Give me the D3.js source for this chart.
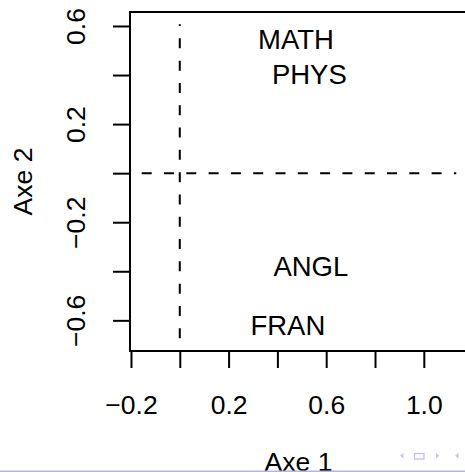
<!DOCTYPE html>
<html>
<head>
<meta charset="utf-8">
<script src="https://d3js.org/d3.v7.min.js"></script>
<style>
  html, body { margin: 0; padding: 0; background: #fff; }
  svg text { font-family: "Liberation Sans", Arial, Helvetica, sans-serif; fill: #000; }
</style>
</head>
<body>
<div id="chart"></div>
<script>
// Variables (individus) projected on the first two axes
const labels = ["MATH", "PHYS", "ANGL", "FRAN"];
const axe1 = [0.476, 0.531, 0.537, 0.443];
const axe2 = [0.545, 0.404, -0.379, -0.618];

// ticks (R drops every other label because they would overlap)
const xTicks = [-0.2, 0, 0.2, 0.4, 0.6, 0.8, 1.0];
const xTickLabels = [-0.2, 0.2, 0.6, 1.0];
const yTicks = [-0.6, -0.4, -0.2, 0, 0.2, 0.4, 0.6];
const yTickLabels = [-0.6, -0.2, 0.2, 0.6];

// data limits used by the dashed reference lines
const xLim = [-0.156, 1.133];
const yLim = [-0.673, 0.607];

function drawPlot() {
    const width = 465, height = 472;
    const box = {left: 130, right: 467, top: 12, bottom: 351};

    const svg = d3.select("#chart").append("svg")
        .attr("width", width)
        .attr("height", height);

    const x = d3.scaleLinear().domain([-0.204, 1.177]).range([box.left, box.right]);
    const y = d3.scaleLinear().domain([-0.725, 0.657]).range([box.bottom, box.top]);

    const fmt = d3.format(".1f");

    // x axis
    const xAxis = svg.append("g")
        .attr("transform", `translate(0,${box.bottom})`)
        .call(d3.axisBottom(x)
            .tickValues(xTicks)
            .tickSize(17)
            .tickPadding(27)
            .tickFormat(d => xTickLabels.some(v => Math.abs(v - d) < 1e-9) ? fmt(d) : ""));
    xAxis.select(".domain").remove();
    xAxis.selectAll(".tick line").attr("stroke", "#000").attr("stroke-width", 2);
    xAxis.selectAll(".tick text").attr("font-size", 26.5).attr("fill", "#000");

    // y axis, labels parallel to the axis
    const yAxis = svg.append("g")
        .attr("transform", `translate(${box.left},0)`)
        .call(d3.axisLeft(y)
            .tickValues(yTicks)
            .tickSize(17)
            .tickFormat(d => yTickLabels.some(v => Math.abs(v - d) < 1e-9) ? fmt(d) : ""));
    yAxis.select(".domain").remove();
    yAxis.selectAll(".tick line").attr("stroke", "#000").attr("stroke-width", 2);
    yAxis.selectAll(".tick text")
        .attr("font-size", 26.5)
        .attr("fill", "#000")
        .attr("x", null)
        .attr("dy", null)
        .attr("text-anchor", "middle")
        .attr("transform", "translate(-45.5,0) rotate(-90)");

    // plot box
    svg.append("rect")
        .attr("x", box.left)
        .attr("y", box.top)
        .attr("width", box.right - box.left)
        .attr("height", box.bottom - box.top)
        .attr("fill", "none")
        .attr("stroke", "#000")
        .attr("stroke-width", 2);

    // dashed reference lines at 0
    svg.append("line")
        .attr("x1", x(xLim[0])).attr("x2", x(xLim[1]))
        .attr("y1", y(0)).attr("y2", y(0))
        .attr("stroke", "#000")
        .attr("stroke-width", 2)
        .attr("stroke-dasharray", "10,12.3");

    svg.append("line")
        .attr("x1", x(0)).attr("x2", x(0))
        .attr("y1", y(yLim[0])).attr("y2", y(yLim[1]))
        .attr("stroke", "#000")
        .attr("stroke-width", 2)
        .attr("stroke-dasharray", "10,12.3");

    // point labels, centred on the coordinates
    const labelSize = 27.5;
    svg.append("g")
        .selectAll("text")
        .data(labels)
        .join("text")
        .attr("x", (d, i) => x(axe1[i]))
        .attr("y", (d, i) => y(axe2[i]) + labelSize * 0.358)
        .attr("text-anchor", "middle")
        .attr("font-size", labelSize)
        .text(d => d);

    // axis titles
    svg.append("text")
        .attr("x", (box.left + box.right) / 2)
        .attr("y", 470.5)
        .attr("text-anchor", "middle")
        .attr("font-size", 26.5)
        .text("Axe 1");

    svg.append("text")
        .attr("transform", `translate(32,${(box.top + box.bottom) / 2}) rotate(-90)`)
        .attr("text-anchor", "middle")
        .attr("font-size", 26.5)
        .text("Axe 2");

    // beamer footer: navigation symbols and bottom rule
    const nav = svg.append("g").attr("fill", "#c9c9ee").attr("stroke", "none");
    nav.append("path").attr("d", "M400,455.7 L403.5,452.7 L403.5,458.7 Z");
    nav.append("rect")
        .attr("x", 414.5).attr("y", 453.5).attr("width", 9.5).attr("height", 5.5)
        .attr("fill", "none").attr("stroke", "#c0c0ea").attr("stroke-width", 1.3);
    nav.append("path").attr("d", "M436,452.7 L439.5,455.7 L436,458.7 Z");
    nav.append("path").attr("d", "M455,455.7 L458.5,452.7 L458.5,458.7 Z");

    svg.append("line")
        .attr("x1", 0).attr("x2", width)
        .attr("y1", 471.3).attr("y2", 471.3)
        .attr("stroke", "#b6b6e0")
        .attr("stroke-width", 1.5);
}

drawPlot();
</script>
</body>
</html>
